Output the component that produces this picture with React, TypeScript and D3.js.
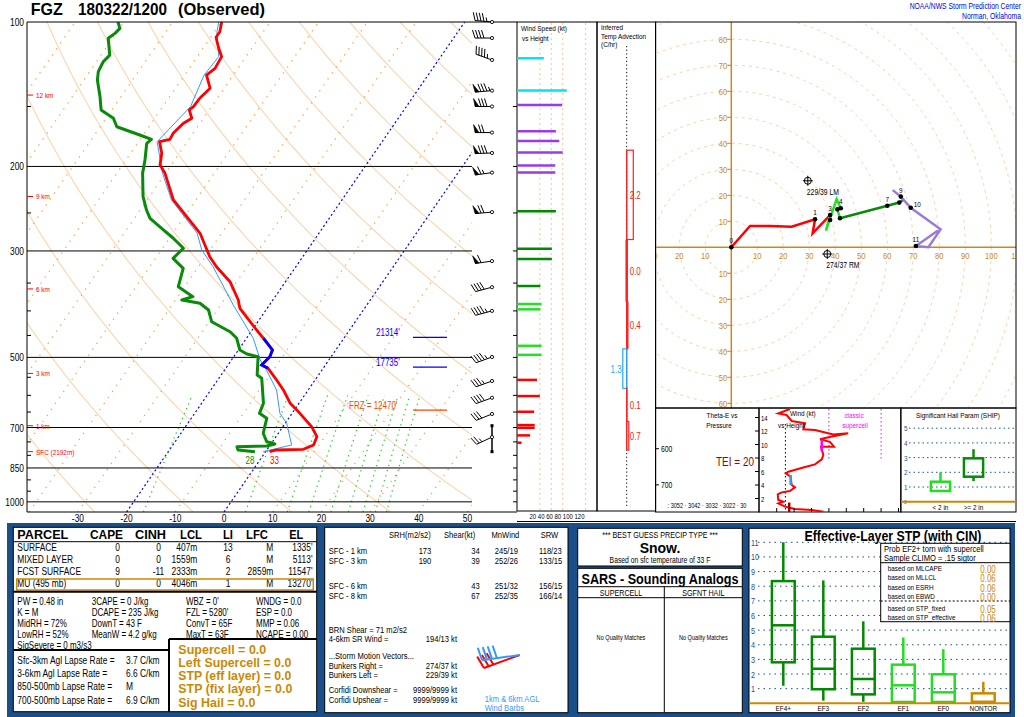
import React from "react";
import * as d3 from "d3";

const FONT = "'Liberation Sans', Arial, Helvetica, sans-serif";
const NARROW = "NARROW";

// ---------------- Sounding data (pressure hPa, temperature C) ----------------
const TEMP_P = [100, 104.8, 107.6, 112.6, 118.1, 124.9, 129, 137.4, 144.2, 150.1, 152.5, 158.7, 162.6, 170.6, 175.6, 177.6, 187.8, 198.6, 206.7, 234.9, 254.5, 275.6, 308.4, 323.6, 347.7, 379.6, 395.1, 438.4, 456.2, 482.6, 498.3, 518.6, 526.9, 557.3, 584.6, 623.2, 654, 697.2, 731.5, 761.3, 777.1, 779.7, 786.1];
const TEMP_C = [-69.9, -68.9, -68.9, -67.1, -65.0, -64.7, -65.5, -62.9, -63.6, -63.7, -64.1, -62.4, -63.4, -64.1, -63.9, -65.7, -63.6, -62.3, -60.1, -54.6, -49.5, -44.4, -39.1, -36.3, -31.4, -27.1, -25.6, -19.1, -16.5, -13.0, -12.6, -13.1, -11.3, -7.9, -5.1, -1.8, 1.6, 5.9, 8.4, 8.9, 7.4, 2.0, 0.8];
const DEWP_P = [100, 103.1, 105.6, 108.1, 117.2, 121, 126.9, 132.1, 143.1, 152.5, 158.7, 165.3, 172, 175.6, 179, 193.9, 206.7, 231.2, 246.5, 256.5, 271.3, 282.3, 296.2, 310.8, 326.1, 356.2, 373.6, 379.6, 385.7, 398.3, 421.3, 442, 456.2, 482.6, 491.9, 498.3, 544.1, 552.7, 623.2, 654, 669.8, 719.6, 749.3, 757.6, 764.8, 767.5, 779.7, 786.1];
const DEWP_C = [-91.2, -89.9, -90.2, -90.9, -88.2, -88.6, -88.2, -87.2, -84.3, -82.2, -78.5, -76.6, -70.7, -67.7, -68.1, -66.1, -64.7, -61.3, -58.7, -56.8, -52.4, -49.2, -45.7, -46.4, -42.9, -41.3, -36.9, -38.7, -34.5, -31.8, -29.5, -24.3, -22.0, -19.7, -17.7, -15.0, -12.6, -11.2, -7.3, -6.7, -4.5, -3.1, -1.2, 0.8, -0.6, -6.6, -5.9, -2.2];
const WETB_P = [100, 104.8, 118.1, 129, 150.1, 177.6, 206.7, 234.9, 275.6, 298.6, 323.6, 389, 456.2, 506.3, 531.2, 584.6, 654, 685.9, 761.3, 786.1];
const WETB_C = [-70.5, -69.5, -65.6, -66, -64.3, -66.2, -60.6, -55, -45, -41.7, -37, -27.4, -18.6, -14.1, -11.4, -6.5, -2.5, 0.3, 4.4, -0.5];

const PRESS_LABELS = [100, 200, 300, 500, 700, 850, 1000];
const TEMP_TICKS = [-30, -20, -10, 0, 10, 20, 30, 40, 50];
const BLUE_ISOTHERMS = [-20, 0];
const HEIGHT_MARK_P = [142, 231, 360, 540, 694, 786];
const HEIGHT_MARK_L = ["12 km", "9 km", "6 km", "3 km", "1 km", "SFC (2192m)"];
const MIXR_LINES = [1, 5, 9, 12, 16, 20, 24, 28, 32];
const LEVEL_P = [454, 524, 644];
const LEVEL_L = ["21314'", "17735'", "FRZ = 12470'"];

// wind barbs
const BARB_P = [100, 108, 120, 139, 150, 170, 187.5, 206, 249, 315, 357, 400, 499, 560, 607, 656, 733];
const BARB_DIR = [275, 270, 290, 265, 270, 270, 268, 262, 265, 262, 255, 255, 250, 250, 250, 248, 245];
const BARB_SPD = [45, 40, 47, 87, 79, 68, 80, 67, 68, 61, 41, 43, 43, 35, 40, 30, 23];
const INFLOW_P = [694, 786];

// wind speed vs height column
const WSPD_P = [119, 139, 149, 169, 177, 187, 199, 206, 248, 297, 312, 355, 387, 397, 473, 494, 557, 602, 649, 692, 701, 727, 753];
const WSPD_KT = [47, 87, 79, 68, 74, 80, 67, 67, 68, 61, 61, 41, 43, 41, 43, 43, 35, 40, 30, 31, 31, 23, 8];
const WSPD_GRID = [40, 60, 80, 120];

// inferred temperature advection
const ADV_PTOP = [185, 284, 383, 480, 580, 680];
const ADV_PBOT = [284, 383, 480, 580, 680, 780];
const ADV_VAL = [2.2, 0.0, 0.4, -1.3, 0.1, 0.7];

// hodograph (u, v in kt)
const HODO_0_3 = [[0, 0], [7.2, 8.2], [14.9, 8.2], [23.2, 7.9], [32.2, 10.8], [31.3, 5.4], [38, 12.4]];
const HODO_3_6 = [[38, 12.4], [36.4, 6.4], [40.5, 18.5], [42.1, 15], [40.8, 14.6], [41.8, 11.2]];
const HODO_6_9 = [[41.8, 11.2], [60, 16], [64.6, 17.2], [66.5, 18.5]];
const HODO_9_12 = [[62.1, 22], [65.2, 19.5], [69, 15.2], [80.5, 6.9], [75.8, 0], [71, 0.5], [79.5, 6.5]];
const HODO_MARK_L = ["0", "1", "", "3", "", "4", "", "7", "", "9", "10", "11"];
const HODO_MARK_U = [0, 32.2, 38, 38, 40.8, 42.1, 41.8, 60, 64.6, 65.2, 69, 71];
const HODO_MARK_V = [0, 10.8, 10.5, 12.4, 14.6, 15, 11.2, 16, 17.2, 19.5, 15.2, 0.5];
const STORM_DIR = [274, 229];
const STORM_SPD = [37, 39];
const STORM_LBL = ["RM", "LM"];

// storm-relative wind vs height panel
const SR_H = [0.04, 0.3, 0.44, 0.79, 1.28, 1.53, 1.78, 2.62, 2.91, 3.11, 3.65, 4.0, 5.23, 5.73, 5.97, 6.67, 7.06, 7.8, 8.44, 9.68, 9.68, 10.4, 10.77, 11.06, 11.65, 11.5, 12.15, 12.25, 13.14, 13.48, 14.37, 14.6, 15.26];
const SR_KT = [36.9, 30.1, 20.5, 14.8, 10.9, 13.8, 10.9, 10.6, 12.9, 17.6, 20.5, 18.6, 18.0, 15.2, 16.7, 26.3, 32.0, 35.9, 36.8, 35.5, 42.9, 40.6, 34.9, 39.7, 51.1, 42.5, 32.0, 25.3, 26.3, 18.6, 15.7, 10.9, 17.6];
const SR_LAYER_BOT = [0, 4, 9];
const SR_LAYER_TOP = [1.4, 5.5, 10.7];
const SR_LAYER_KT = [17.2, 18, 35.9];

// SHIP
const SHIP_CATS = ["< 2 in", ">= 2 in"];
const SHIP_WLO = [0.73, 1.4];
const SHIP_Q1 = [0.73, 1.7];
const SHIP_Q3 = [1.36, 2.95];
const SHIP_WHI = [2.0, 3.57];

// Effective layer STP box plots
const STP_CATS = ["EF4+", "EF3", "EF2", "EF1", "EF0", "NONTOR"];
const STP_WLO = [1.2, 0.18, 0.1, 0, 0, 0];
const STP_Q1 = [2.8, 0.96, 0.61, 0.09, 0.09, 0.09];
const STP_MED = [5.33, 2.36, 1.66, 1.23, 0.75, 0.09];
const STP_Q3 = [8.35, 4.55, 3.73, 2.64, 1.98, 0.68];
const STP_WHI = [11, 8.4, 5.6, 4.5, 3.7, 1.47];
const STP_PROB_L = ["based on MLCAPE", "based on MLLCL", "based on ESRH", "based on EBWD", "based on STP_fixed", "based on STP_effective"];
const STP_PROB_V = ["0.00", "0.06", "0.06", "0.00", "0.05", "0.06"];

// parcel table
const PARCEL_ROWS = ["SURFACE", "MIXED LAYER", "FCST SURFACE", "MU   (495 mb)"];
const PARCEL_CAPE = ["0", "0", "9", "0"];
const PARCEL_CINH = ["0", "0", "-11", "0"];
const PARCEL_LCL = ["407m", "1559m", "2333m", "4046m"];
const PARCEL_LI = ["13", "6", "2", "1"];
const PARCEL_LFC = ["M", "M", "2859m", "M"];
const PARCEL_EL = ["1335'", "5113'", "11547'", "13270'"];

const IDX_COL1 = ["PW = 0.48 in", "K = M", "MidRH = 72%", "LowRH = 52%", "SigSevere = 0 m3/s3"];
const IDX_COL2 = ["3CAPE = 0 J/kg", "DCAPE = 235 J/kg", "DownT = 43 F", "MeanW = 4.2 g/kg"];
const IDX_COL3 = ["WBZ = 0'", "FZL = 5280'", "ConvT = 65F", "MaxT = 63F"];
const IDX_COL4 = ["WNDG = 0.0", "ESP = 0.0", "MMP = 0.06", "NCAPE = 0.00"];
const LAPSE_L = ["Sfc-3km Agl Lapse Rate =", "3-6km Agl Lapse Rate =", "850-500mb Lapse Rate =", "700-500mb Lapse Rate ="];
const LAPSE_V = ["3.7 C/km", "6.6 C/km", "M", "6.9 C/km"];
const SEVERE_L = ["Supercell = 0.0", "Left Supercell = 0.0", "STP (eff layer) = 0.0", "STP (fix layer) = 0.0", "Sig Hail = 0.0"];

const KIN_ROWS = ["SFC - 1 km", "SFC - 3 km", "SFC - 6 km", "SFC - 8 km"];
const KIN_SRH = ["173", "190", "", ""];
const KIN_SHEAR = ["34", "39", "43", "67"];
const KIN_MNW = ["245/19", "252/26", "251/32", "252/35"];
const KIN_SRW = ["118/23", "133/15", "156/15", "166/14"];
const BARB2_DIR = [250, 262];
const BARB2_SPD = [32, 38];

function barb(x: number, y: number, dir: number, spd: number, L = 17, F = 8, G = 3) {
  const r = (dir * Math.PI) / 180;
  const ux = Math.sin(r), uy = -Math.cos(r);
  const px = -uy, py = ux;
  const at = (d: number) => [x + ux * d, y + uy * d];
  let s = Math.round(spd / 5) * 5;
  const n50 = Math.floor(s / 50); s -= n50 * 50;
  const n10 = Math.floor(s / 10); s -= n10 * 10;
  const n5 = s >= 5 ? 1 : 0;
  const tip = at(L);
  let line = `M${x},${y}L${tip[0]},${tip[1]}`;
  let flags = "";
  let d = L;
  for (let i = 0; i < n50; i++) {
    const a = at(d), b = at(d - 4);
    flags += `M${a[0]},${a[1]}L${a[0] + px * F + ux * 1.5},${a[1] + py * F + uy * 1.5}L${b[0]},${b[1]}Z`;
    d -= 5;
  }
  if (n50 > 0) d -= 1;
  for (let i = 0; i < n10; i++) {
    const a = at(d);
    line += `M${a[0]},${a[1]}l${px * F + ux * 2.5},${py * F + uy * 2.5}`;
    d -= G;
  }
  if (n5) {
    if (n50 === 0 && n10 === 0) d -= G;
    const a = at(d);
    line += `M${a[0]},${a[1]}l${(px * F) / 2 + ux * 1.25},${(py * F) / 2 + uy * 1.25}`;
  }
  return { line, flags };
}

function Txt(props: any) {
  const { x, y, s = 10, fill = "#000", anchor = "start", weight = "normal", len, family = FONT, children } = props;
  const narrow = family === NARROW;
  const k = props.k !== undefined ? props.k : narrow ? 0.8 : 1;
  const extra: any = {};
  if (len) { extra.textLength = len; extra.lengthAdjust = "spacingAndGlyphs"; }
  return (
    <text transform={`translate(${x},${y}) scale(${k},1)`} x={0} y={0} fontSize={s} fill={fill} textAnchor={anchor}
      fontWeight={weight} fontFamily={FONT} {...extra}>
      {children}
    </text>
  );
}

export default function App() {
  // ---------- Skew-T scales ----------
  const yP = d3.scaleLog().domain([100, 1050]).range([22, 512]);
  const xT = d3.scaleLinear().domain([0, 10]).range([224, 272.7]);
  const SKEW = 0.69;
  const sx = (t: number, p: number) => xT(t) + SKEW * (yP(1050) - yP(p));
  const profile = (P: number[], T: number[]) =>
    d3.line<number>().x((i) => sx(T[i], P[i])).y((i) => yP(P[i]))(P.map((_, i) => i)) || "";
  const pSamples = d3.range(1050, 99, -10).concat([100]);
  const dryAdiabats = d3.range(-30, 211, 20).map((th) =>
    d3.line<number>().x((p) => sx((th + 273.15) * Math.pow(p / 1000, 0.2857) - 273.15, p)).y((p) => yP(p))(pSamples) || ""
  );
  const mixT = (w: number, p: number) => {
    const e = (w * p) / (622 + w);
    const l = Math.log(e / 6.112);
    return (243.5 * l) / (17.67 - l);
  };
  const mixLines = MIXR_LINES.map((w) =>
    d3.line<number>().x((p) => sx(mixT(w, p), p)).y((p) => yP(p))(d3.range(1050, 599, -25).concat([600])) || ""
  );
  const isoLine = (t: number) => ({ x1: sx(t, 1050), y1: yP(1050), x2: sx(t, 100), y2: yP(100) });
  const isotherms = d3.range(-110, 51, 10).filter((t) => BLUE_ISOTHERMS.indexOf(t) < 0);
  const dgzIdx = TEMP_P.map((p, i) => i).filter((i) => TEMP_P[i] >= 452 && TEMP_P[i] <= 527);
  const dgzPath = profile(dgzIdx.map((i) => TEMP_P[i]), dgzIdx.map((i) => TEMP_C[i]));
  const sfcI = TEMP_P.length - 1;
  const sfcTd = DEWP_C[DEWP_C.length - 1];
  const cToF = (c: number) => Math.round((c * 9) / 5 + 32);
  const pTicks = d3.range(150, 1001, 50).filter((p) => PRESS_LABELS.indexOf(p) < 0);
  const allPTicks = d3.range(150, 1001, 50);

  const bandColor = (p: number) =>
    p < HEIGHT_MARK_P[0] ? "#00e5ee" : p < HEIGHT_MARK_P[1] ? "#9a3be8" : p < HEIGHT_MARK_P[2] ? "#008a00" : p < HEIGHT_MARK_P[3] ? "#22e022" : "#ff0000";

  const wsX = d3.scaleLinear().domain([0, 140]).range([517, 597]);
  const advX = d3.scaleLinear().domain([0, 1]).range([626.7, 629.7]);

  const hX = d3.scaleLinear().domain([-30, 110]).range([731.3 - 78, 731.3 + 286]);
  const hY = d3.scaleLinear().domain([-60, 90]).range([403.3, 13.3]);
  const hLine = (pts: number[][]) => d3.line<number[]>().x((d) => hX(d[0])).y((d) => hY(d[1]))(pts) || "";
  const rings = d3.range(10, 131, 10);
  const hoXLabels = [-30, -20, -10, 10, 20, 30, 40, 50, 60, 70, 80, 90, 100, 110];
  const hoYLabels = [80, 70, 60, 50, 40, 30, 20, 10, -10, -20, -30, -40, -50, -60];
  const storms = STORM_DIR.map((d, i) => {
    const r = (d * Math.PI) / 180;
    return { u: -STORM_SPD[i] * Math.sin(r), v: -STORM_SPD[i] * Math.cos(r), lbl: `${d}/${STORM_SPD[i]} ${STORM_LBL[i]}` };
  });

  const thY = d3.scaleLog().domain([500, 786]).range([406, 512]);
  const srX = d3.scaleLinear().domain([0, 10]).range([759.3, 776.7]);
  const srY = d3.scaleLinear().domain([0, 14]).range([512, 417.5]);
  const srPath = d3.line<number>().x((i) => srX(SR_KT[i])).y((i) => srY(SR_H[i]))(SR_H.map((_, i) => i)) || "";
  const shY = d3.scaleLinear().domain([0, 5]).range([501.7, 428.2]);
  const shX = d3.scaleBand().domain(SHIP_CATS).range([917, 997]).padding(0.42);

  const stpY = d3.scaleLinear().domain([0, 11]).range([703.3, 542.3]);
  const stpX = d3.scaleBand().domain(STP_CATS).range([763.3, 1003.3]).paddingInner(0.43).paddingOuter(0.215);
  const stpColor = (i: number) => (i < 3 ? "#008a00" : i < 5 ? "#22dd22" : "#cc8800");

  const BLUE = "#1b4f8a";

  return (
    <svg width={1024} height={717} style={{ position: "absolute", left: 0, top: 0, background: "#fff" }} fontFamily={FONT}>
      <defs>
        <clipPath id="skewclip"><rect x={27} y={22} width={445} height={490} /></clipPath>
        <clipPath id="hodoclip"><rect x={655} y={22} width={361} height={386} /></clipPath>
        <clipPath id="srclip"><rect x={759} y={408} width={142} height={104} /></clipPath>
      </defs>
      <rect x={0} y={0} width={1024} height={717} fill="#fff" />

      {/* ===== Title ===== */}
      <Txt x={30.7} y={15} s={17} weight="bold" len={32}>FGZ</Txt>
      <Txt x={78} y={15} s={17} weight="bold" len={89}>180322/1200</Txt>
      <Txt x={178} y={15} s={17} weight="bold" len={87}>(Observed)</Txt>
      <Txt x={1021} y={9} s={8.5} fill="#0000dd" anchor="end" family={NARROW}>NOAA/NWS Storm Prediction Center</Txt>
      <Txt x={1021} y={18.5} s={8.5} fill="#0000dd" anchor="end" family={NARROW}>Norman, Oklahoma</Txt>

      {/* ===== Skew-T ===== */}
      <g clipPath="url(#skewclip)">
        {dryAdiabats.map((d, i) => <path key={"da" + i} d={d} fill="none" stroke="#f9d8b6" strokeWidth={1.2} />)}
        {isotherms.map((t) => (
          <line key={"it" + t} {...isoLine(t)} stroke="#ff9a3c" strokeWidth={1.2} strokeDasharray="1.3 6" />
        ))}
        {BLUE_ISOTHERMS.map((t) => (
          <line key={"bl" + t} {...isoLine(t)} stroke="#0000ff" strokeWidth={1.2} strokeDasharray="2 2.5" />
        ))}
        {mixLines.map((d, i) => <path key={"mx" + i} d={d} fill="none" stroke="#22cc22" strokeWidth={1.2} strokeDasharray="1.3 4" />)}
        {PRESS_LABELS.filter((p) => p > 100).map((p) => (
          <line key={"pl" + p} x1={27} x2={472} y1={yP(p)} y2={yP(p)} stroke="#000" strokeWidth={1} />
        ))}
        <path d={profile(WETB_P, WETB_C)} fill="none" stroke="#3399ff" strokeWidth={1} />
        <path d={profile(DEWP_P, DEWP_C)} fill="none" stroke="#0a8a0a" strokeWidth={3} strokeLinejoin="round" />
        <path d={profile(TEMP_P, TEMP_C)} fill="none" stroke="#ff0000" strokeWidth={2.8} strokeLinejoin="round" />
        <path d={dgzPath} fill="none" stroke="#0000ff" strokeWidth={2.8} />
      </g>
      <line x1={27} y1={22} x2={517} y2={22} stroke="#000" />
      <line x1={27} y1={512} x2={517} y2={512} stroke="#000" />
      <line x1={27} y1={22} x2={27} y2={512} stroke="#000" />
      {PRESS_LABELS.map((p) => (
        <Txt key={"plab" + p} x={24} y={yP(p) + 4} s={10.5} anchor="end" family={NARROW}>{p}</Txt>
      ))}
      {pTicks.map((p) => <line key={"pt" + p} x1={27} x2={31} y1={yP(p)} y2={yP(p)} stroke="#000" />)}
      {TEMP_TICKS.map((t) => (
        <Txt key={"tt" + t} x={xT(t)} y={522} s={10.5} anchor="middle" family={NARROW}>{t}</Txt>
      ))}
      {HEIGHT_MARK_P.map((p, i) => (
        <g key={"hm" + i}>
          <line x1={27} x2={33} y1={yP(p)} y2={yP(p)} stroke="#ff0000" />
          <Txt x={36} y={yP(p) + 3} s={8} fill="#ff0000" family={NARROW}>{HEIGHT_MARK_L[i]}</Txt>
        </g>
      ))}
      {LEVEL_P.map((p, i) => (
        <g key={"lv" + i}>
          <line x1={413} x2={447} y1={yP(p)} y2={yP(p)} stroke={i < 2 ? "#0000ff" : "#ff4400"} strokeWidth={1.2} />
          <Txt x={i < 2 ? 376 : 349} y={yP(p) - 1} s={10} fill={i < 2 ? "#0000ff" : "#ff4400"} family={NARROW}>{LEVEL_L[i]}</Txt>
        </g>
      ))}
      <Txt x={sx(sfcTd, TEMP_P[sfcI]) - 5} y={yP(TEMP_P[sfcI]) + 12} s={10} fill="#0a8a0a" anchor="middle" family={NARROW}>{cToF(sfcTd)}</Txt>
      <Txt x={sx(TEMP_C[sfcI], TEMP_P[sfcI]) + 5} y={yP(TEMP_P[sfcI]) + 12} s={10} fill="#ff0000" anchor="middle" family={NARROW}>{cToF(TEMP_C[sfcI])}</Txt>

      {/* wind barbs */}
      <line x1={492} x2={492} y1={yP(INFLOW_P[0])} y2={yP(INFLOW_P[1])} stroke="#000" strokeWidth={1.5} />
      <rect x={490.5} y={yP(INFLOW_P[0]) - 1.5} width={3} height={3} fill="#000" />
      <rect x={490.5} y={yP(INFLOW_P[1]) - 1.5} width={3} height={3} fill="#000" />
      {BARB_P.map((p, i) => {
        const b = barb(492, yP(p), BARB_DIR[i], BARB_SPD[i]);
        return (
          <g key={"bb" + i}>
            <path d={b.line} stroke="#000" strokeWidth={1} fill="none" />
            <path d={b.flags} fill="#000" stroke="#000" strokeWidth={0.6} />
            <circle cx={492} cy={yP(p)} r={1.6} fill="#fff" stroke="#000" strokeWidth={0.9} />
          </g>
        );
      })}

      {/* ===== Wind speed column ===== */}
      <rect x={517} y={22} width={80} height={489} fill="none" stroke="#000" />
      {WSPD_GRID.map((k) => (
        <line key={"wg" + k} x1={wsX(k)} x2={wsX(k)} y1={23} y2={510} stroke="#f3c890" strokeDasharray="2 3" />
      ))}
      {allPTicks.map((p) => <line key={"wt" + p} x1={513} x2={517} y1={yP(p)} y2={yP(p)} stroke="#000" />)}
      {WSPD_P.map((p, i) => (
        <line key={"ws" + i} x1={517} x2={wsX(WSPD_KT[i])} y1={yP(p)} y2={yP(p)} stroke={bandColor(p)} strokeWidth={2.5} />
      ))}
      <Txt x={521} y={31} s={8} family={NARROW}>Wind Speed (kt)</Txt>
      <Txt x={522} y={41} s={8} family={NARROW}>vs Height</Txt>
      <Txt x={557} y={518.5} s={7.5} anchor="middle" family={NARROW}>20 40 60 80 100 120</Txt>

      {/* ===== Inferred temp advection ===== */}
      <rect x={597} y={22} width={58.7} height={489} fill="none" stroke="#000" />
      <line x1={advX(0)} x2={advX(0)} y1={46} y2={508} stroke="#000" strokeDasharray="1.2 2.5" />
      <Txt x={601} y={30} s={8} family={NARROW}>Inferred</Txt>
      <Txt x={601} y={38.5} s={8} family={NARROW}>Temp Advection</Txt>
      <Txt x={601} y={47} s={8} family={NARROW}>(C/hr)</Txt>
      <line x1={advX(0)} x2={advX(0)} y1={yP(ADV_PTOP[0])} y2={yP(ADV_PBOT[ADV_PBOT.length - 1])} stroke="#ff2020" strokeWidth={1} />
      {ADV_VAL.map((v, i) => {
        const y1 = yP(ADV_PTOP[i]), y2 = yP(ADV_PBOT[i]);
        const col = v < 0 ? "#22aaff" : "#ff2020";
        const xa = Math.min(advX(0), advX(v)), w = Math.abs(advX(v) - advX(0));
        return (
          <g key={"adv" + i}>
            {v === 0 ? (
              <line x1={advX(0)} x2={advX(0)} y1={y1} y2={y2} stroke={col} strokeWidth={2.5} />
            ) : (
              <rect x={xa} y={y1} width={w} height={y2 - y1} fill="none" stroke={col} strokeWidth={1.2} />
            )}
            <Txt x={v < 0 ? advX(0) - 5 : advX(0) + 3} y={(y1 + y2) / 2 + 4} s={10} fill={col} anchor={v < 0 ? "end" : "start"} family={NARROW}>
              {Math.abs(v).toFixed(1)}
            </Txt>
          </g>
        );
      })}

      {/* ===== Hodograph ===== */}
      <g clipPath="url(#hodoclip)">
        {rings.map((r) => (
          <circle key={"rg" + r} cx={hX(0)} cy={hY(0)} r={hX(r) - hX(0)} fill="none" stroke="#f6d2a8" strokeDasharray="3 4" />
        ))}
        <line x1={655} x2={1016} y1={hY(0)} y2={hY(0)} stroke="#c98a1c" strokeWidth={1.5} />
        <line x1={hX(0)} x2={hX(0)} y1={22} y2={408} stroke="#c98a1c" strokeWidth={1.5} />
        {hoXLabels.map((u) => (
          <Txt key={"hx" + u} x={hX(u)} y={hY(0) + 12} s={9.5} fill="#c98a1c" anchor="middle" family={NARROW}>{Math.abs(u)}</Txt>
        ))}
        {hoYLabels.map((v) => (
          <g key={"hy" + v}>
            <line x1={hX(0) - 4} x2={hX(0)} y1={hY(v)} y2={hY(v)} stroke="#c98a1c" />
            <Txt x={hX(0) - 4} y={hY(v) + 3.5} s={9.5} fill="#c98a1c" anchor="end" family={NARROW}>{Math.abs(v)}</Txt>
          </g>
        ))}
        <path d={hLine(HODO_0_3)} fill="none" stroke="#ff0000" strokeWidth={2.5} />
        <path d={hLine(HODO_3_6)} fill="none" stroke="#22e022" strokeWidth={2.5} />
        <path d={hLine(HODO_6_9)} fill="none" stroke="#0a8a0a" strokeWidth={2.5} />
        <path d={hLine(HODO_9_12)} fill="none" stroke="#9a7ad8" strokeWidth={2.5} />
        {HODO_MARK_U.map((u, i) => (
          <g key={"hm" + i}>
            <circle cx={hX(u)} cy={hY(HODO_MARK_V[i])} r={2.3} fill="#000" />
            <Txt x={HODO_MARK_L[i] === "10" ? hX(u) + 3 : hX(u)} y={HODO_MARK_L[i] === "10" ? hY(HODO_MARK_V[i]) - 1 : hY(HODO_MARK_V[i]) - 4}
              s={8} anchor={HODO_MARK_L[i] === "10" ? "start" : "middle"} family={NARROW}>{HODO_MARK_L[i]}</Txt>
          </g>
        ))}
        {storms.map((s, i) => (
          <g key={"st" + i}>
            <circle cx={hX(s.u)} cy={hY(s.v)} r={3.5} fill="none" stroke="#000" />
            <line x1={hX(s.u) - 5} x2={hX(s.u) + 5} y1={hY(s.v)} y2={hY(s.v)} stroke="#000" />
            <line x1={hX(s.u)} x2={hX(s.u)} y1={hY(s.v) - 5} y2={hY(s.v) + 5} stroke="#000" />
            <Txt x={hX(s.u) - 1} y={hY(s.v) + 14} s={8.5} family={NARROW}>{s.lbl}</Txt>
          </g>
        ))}
      </g>
      <rect x={655.5} y={22} width={360.5} height={386} fill="none" stroke="#000" />

      {/* ===== Theta-E panel ===== */}
      <rect x={655.5} y={408} width={103.5} height={104} fill="none" stroke="#000" />
      <Txt x={722} y={418} s={8} anchor="middle" family={NARROW}>Theta-E vs</Txt>
      <Txt x={719} y={428} s={8} anchor="middle" family={NARROW}>Pressure</Txt>
      {[600, 700].map((p) => (
        <g key={"th" + p}>
          <line x1={655.5} x2={659} y1={thY(p)} y2={thY(p)} stroke="#000" />
          <Txt x={661} y={thY(p) + 3} s={8.5} family={NARROW}>{p}</Txt>
        </g>
      ))}
      <Txt x={735} y={466} s={12.5} fill="#990000" anchor="middle" family={NARROW}>TEI = 20</Txt>
      <Txt x={707} y={508} s={7} anchor="middle" family={NARROW}>: 3052 · 3042 · 3032 · 3022 · 30</Txt>

      {/* ===== SR wind panel ===== */}
      <rect x={759} y={408} width={142} height={104} fill="none" stroke="#000" />
      {[40, 70].map((k) => (
        <line key={"mg" + k} x1={srX(k)} x2={srX(k)} y1={409} y2={459} stroke="#ff00ff" strokeDasharray="1.5 2.5" />
      ))}
      <line x1={srX(15)} x2={srX(15)} y1={424} y2={511} stroke="#000" strokeDasharray="1.5 2.5" />
      <g clipPath="url(#srclip)">
        <path d={srPath} fill="none" stroke="#ff0000" strokeWidth={2} />
        {SR_LAYER_KT.map((k, i) => (
          <line key={"srl" + i} x1={srX(k)} x2={srX(k)} y1={srY(SR_LAYER_BOT[i])} y2={srY(SR_LAYER_TOP[i])}
            stroke={i === 0 ? "#aa0000" : i === 1 ? "#3399ff" : "#ff00ff"} strokeWidth={2.5} />
        ))}
      </g>
      <Txt x={790} y={416} s={8} family={NARROW}>Wind (kt)</Txt>
      <Txt x={778} y={428} s={8} family={NARROW}>vs Height</Txt>
      <Txt x={854} y={418} s={8} fill="#ff00ff" anchor="middle" family={NARROW}>classic</Txt>
      <Txt x={855} y={428} s={8} fill="#ff00ff" anchor="middle" family={NARROW}>supercell</Txt>
      {d3.range(2, 15, 2).map((h) => (
        <g key={"sy" + h}>
          <line x1={755} x2={759} y1={srY(h)} y2={srY(h)} stroke="#000" />
          <Txt x={761} y={srY(h) + 3} s={7.5} family={NARROW}>{h}</Txt>
        </g>
      ))}
      {d3.range(10, 90, 10).map((k) => (
        <line key={"sxk" + k} x1={srX(k)} x2={srX(k)} y1={508} y2={512} stroke="#000" />
      ))}

      {/* ===== SHIP panel ===== */}
      <rect x={900.7} y={408} width={115.3} height={104} fill="none" stroke="#000" />
      <Txt x={958} y={418} s={8} anchor="middle" family={NARROW}>Significant Hail Param (SHIP)</Txt>
      {d3.range(1, 6).map((v) => (
        <g key={"sh" + v}>
          <line x1={909} x2={1015} y1={shY(v)} y2={shY(v)} stroke="#1b5a9a" strokeDasharray="1.5 3" />
          <Txt x={904} y={shY(v) + 3} s={8} fill="#1b5a9a" family={NARROW}>{v}</Txt>
        </g>
      ))}
      <Txt x={904} y={shY(0) + 2} s={6} fill="#1b5a9a" family={NARROW}>0</Txt>
      <line x1={901} x2={1016} y1={shY(0)} y2={shY(0)} stroke="#cc8800" strokeWidth={2} />
      {SHIP_CATS.map((c, i) => {
        const x0 = shX(c) || 0, bw = shX.bandwidth(), cx = x0 + bw / 2;
        const col = i === 0 ? "#22dd22" : "#0a8a0a";
        return (
          <g key={"sb" + i}>
            <line x1={cx} x2={cx} y1={shY(SHIP_WHI[i])} y2={shY(SHIP_Q3[i])} stroke={col} strokeWidth={2.5} />
            <line x1={cx} x2={cx} y1={shY(SHIP_Q1[i])} y2={shY(SHIP_WLO[i])} stroke={col} strokeWidth={2.5} />
            <rect x={x0} y={shY(SHIP_Q3[i])} width={bw} height={shY(SHIP_Q1[i]) - shY(SHIP_Q3[i])} fill="none" stroke={col} strokeWidth={2.5} />
            <Txt x={cx} y={510} s={8} anchor="middle" family={NARROW}>{c}</Txt>
          </g>
        );
      })}

      {/* ===== Bottom section ===== */}
      <line x1={517} x2={1016} y1={521.5} y2={521.5} stroke="#000" />
      <rect x={7} y={523} width={1008} height={194} fill={BLUE} />

      {/* parcel / indices block */}
      <rect x={13.3} y={527.3} width={303.4} height={184.4} fill="#fff" stroke="#000" />
      <Txt x={17.3} y={539} s={12.5} weight="bold" len={51}>PARCEL</Txt>
      <Txt x={90} y={539} s={12.5} weight="bold" len={33}>CAPE</Txt>
      <Txt x={135} y={539} s={12.5} weight="bold" len={31}>CINH</Txt>
      <Txt x={180} y={539} s={12.5} weight="bold" len={22}>LCL</Txt>
      <Txt x={223} y={539} s={12.5} weight="bold" len={10}>LI</Txt>
      <Txt x={246} y={539} s={12.5} weight="bold" len={22}>LFC</Txt>
      <Txt x={289.3} y={539} s={12.5} weight="bold" len={14}>EL</Txt>
      <line x1={13.3} x2={316.7} y1={541.7} y2={541.7} stroke="#000" />
      {PARCEL_ROWS.map((r, i) => {
        const y = 551 + i * 11.9;
        return (
          <g key={"pr" + i}>
            <Txt x={17.3} y={y} s={10.5} family={NARROW}>{r}</Txt>
            <Txt x={117.7} y={y} s={10.5} anchor="middle" family={NARROW}>{PARCEL_CAPE[i]}</Txt>
            <Txt x={158.5} y={y} s={10.5} anchor="middle" family={NARROW}>{PARCEL_CINH[i]}</Txt>
            <Txt x={197.3} y={y} s={10.5} anchor="end" family={NARROW}>{PARCEL_LCL[i]}</Txt>
            <Txt x={228} y={y} s={10.5} anchor="middle" family={NARROW}>{PARCEL_LI[i]}</Txt>
            <Txt x={273.3} y={y} s={10.5} anchor="end" family={NARROW}>{PARCEL_LFC[i]}</Txt>
            <Txt x={312.5} y={y} s={10.5} anchor="end" family={NARROW}>{PARCEL_EL[i]}</Txt>
          </g>
        );
      })}
      <rect x={16.7} y={579} width={296.6} height={11} fill="none" stroke="#cc8800" strokeWidth={1.5} />
      <line x1={13.3} x2={316.7} y1={591.7} y2={591.7} stroke="#000" strokeWidth={2} />
      {IDX_COL1.map((t, i) => <Txt key={"c1" + i} x={17.3} y={604.5 + i * 11} s={10} family={NARROW}>{t}</Txt>)}
      {IDX_COL2.map((t, i) => <Txt key={"c2" + i} x={91.7} y={604.5 + i * 11} s={10} family={NARROW}>{t}</Txt>)}
      {IDX_COL3.map((t, i) => <Txt key={"c3" + i} x={186} y={604.5 + i * 11} s={10} family={NARROW}>{t}</Txt>)}
      {IDX_COL4.map((t, i) => <Txt key={"c4" + i} x={256} y={604.5 + i * 11} s={10} family={NARROW}>{t}</Txt>)}
      <line x1={13.3} x2={169} y1={650} y2={650} stroke="#000" strokeWidth={2} />
      <line x1={169} x2={316.7} y1={639} y2={639} stroke="#000" strokeWidth={2} />
      <line x1={169} x2={169} y1={639} y2={711.7} stroke="#000" strokeWidth={2} />
      {LAPSE_L.map((t, i) => (
        <g key={"lr" + i}>
          <Txt x={17.3} y={664.2 + i * 13.1} s={10.5} family={NARROW}>{t}</Txt>
          <Txt x={126} y={664.2 + i * 13.1} s={10.5} family={NARROW}>{LAPSE_V[i]}</Txt>
        </g>
      ))}
      {SEVERE_L.map((t, i) => (
        <Txt key={"sv" + i} x={178.3} y={653.5 + i * 13.3} s={13} weight="bold" fill="#cc8800" len={[88, 113, 113, 114, 77][i]}>{t}</Txt>
      ))}

      {/* kinematics block */}
      <rect x={324.7} y={527.3} width={243.3} height={185.4} fill="#fff" stroke="#000" />
      <Txt x={389} y={537.5} s={9.5} family={NARROW}>SRH(m2/s2)</Txt>
      <Txt x={444} y={537.5} s={9.5} family={NARROW}>Shear(kt)</Txt>
      <Txt x={491.5} y={537.5} s={9.5} family={NARROW}>MnWind</Txt>
      <Txt x={540.7} y={537.5} s={9.5} family={NARROW}>SRW</Txt>
      {KIN_ROWS.map((r, i) => {
        const y = [554, 563.5, 589, 598.5][i];
        return (
          <g key={"kr" + i}>
            <Txt x={328.7} y={y} s={9.5} family={NARROW}>{r}</Txt>
            <Txt x={431.3} y={y} s={9.5} anchor="end" family={NARROW}>{KIN_SRH[i]}</Txt>
            <Txt x={479.7} y={y} s={9.5} anchor="end" family={NARROW}>{KIN_SHEAR[i]}</Txt>
            <Txt x={494.7} y={y} s={9.5} family={NARROW}>{KIN_MNW[i]}</Txt>
            <Txt x={539} y={y} s={9.5} family={NARROW}>{KIN_SRW[i]}</Txt>
          </g>
        );
      })}
      <Txt x={328.7} y={633} s={9.5} family={NARROW}>BRN Shear = 71 m2/s2</Txt>
      <Txt x={328.7} y={642} s={9.5} family={NARROW}>4-6km SR Wind =</Txt>
      <Txt x={457} y={642} s={9.5} anchor="end" family={NARROW}>194/13 kt</Txt>
      <Txt x={328.7} y={658.5} s={9.5} family={NARROW}>...Storm Motion Vectors...</Txt>
      <Txt x={328.7} y={668.5} s={9.5} family={NARROW}>Bunkers Right =</Txt>
      <Txt x={457} y={668.5} s={9.5} anchor="end" family={NARROW}>{`${STORM_DIR[0]}/${STORM_SPD[0]} kt`}</Txt>
      <Txt x={328.7} y={678} s={9.5} family={NARROW}>Bunkers Left =</Txt>
      <Txt x={457} y={678} s={9.5} anchor="end" family={NARROW}>{`${STORM_DIR[1]}/${STORM_SPD[1]} kt`}</Txt>
      <Txt x={328.7} y={693} s={9.5} family={NARROW}>Corfidi Downshear =</Txt>
      <Txt x={457} y={693} s={9.5} anchor="end" family={NARROW}>9999/9999 kt</Txt>
      <Txt x={328.7} y={702.5} s={9.5} family={NARROW}>Corfidi Upshear =</Txt>
      <Txt x={457} y={702.5} s={9.5} anchor="end" family={NARROW}>9999/9999 kt</Txt>
      {BARB2_DIR.map((d, i) => {
        const b = barb(519.7, 655, d, BARB2_SPD[i], 38, 13, 5);
        const col = i === 0 ? "#ff0000" : "#3399ff";
        return (
          <g key={"b2" + i}>
            <path d={b.line} stroke={col} strokeWidth={2} fill="none" />
            <path d={b.flags} fill={col} stroke={col} />
          </g>
        );
      })}
      <Txt x={484.7} y={702} s={9.5} fill="#3399ff" family={NARROW}>1km &amp; 6km AGL</Txt>
      <Txt x={484.7} y={711} s={9.5} fill="#3399ff" family={NARROW}>Wind Barbs</Txt>

      {/* best guess / SARS */}
      <rect x={577.7} y={528.3} width={164.6} height={37.7} fill="#fff" stroke="#000" />
      <Txt x={660} y={538} s={9} anchor="middle" family={NARROW}>*** BEST GUESS PRECIP TYPE ***</Txt>
      <Txt x={660} y={553} s={14} weight="bold" anchor="middle">Snow.</Txt>
      <Txt x={660} y={562.5} s={8.5} anchor="middle" family={NARROW}>Based on sfc temperature of 33 F</Txt>
      <rect x={577.7} y={568.3} width={164.6} height={144.4} fill="#fff" stroke="#000" />
      <Txt x={660} y={583.5} s={14.5} weight="bold" anchor="middle" len={157}>SARS - Sounding Analogs</Txt>
      <line x1={577.7} x2={742.3} y1={586.7} y2={586.7} stroke="#000" />
      <line x1={577.7} x2={742.3} y1={597.7} y2={597.7} stroke="#000" />
      <line x1={664.3} x2={664.3} y1={586.7} y2={712.7} stroke="#000" />
      <Txt x={621} y={595.5} s={9} anchor="middle" family={NARROW}>SUPERCELL</Txt>
      <Txt x={703.3} y={595.5} s={9} anchor="middle" family={NARROW}>SGFNT HAIL</Txt>
      <Txt x={621} y={639.5} s={7} anchor="middle" family={NARROW}>No Quality Matches</Txt>
      <Txt x={703.3} y={639.5} s={7} anchor="middle" family={NARROW}>No Quality Matches</Txt>

      {/* STP block */}
      <rect x={749} y={528.3} width={261} height={184.4} fill="#fff" stroke="#000" />
      <Txt x={893} y={540.5} s={15} weight="bold" anchor="middle" len={177}>Effective-Layer STP (with CIN)</Txt>
      {d3.range(1, 12).map((v) => (
        <g key={"sp" + v}>
          <line x1={758} x2={1008} y1={stpY(v)} y2={stpY(v)} stroke={BLUE} strokeDasharray="1.5 4" />
          <Txt x={751} y={stpY(v) + 3.5} s={9} fill={BLUE} family={NARROW}>{v}</Txt>
        </g>
      ))}
      {STP_CATS.map((c, i) => {
        const x0 = stpX(c) || 0, bw = stpX.bandwidth(), cx = x0 + bw / 2, col = stpColor(i);
        return (
          <g key={"stp" + i}>
            <line x1={cx} x2={cx} y1={stpY(STP_WHI[i])} y2={stpY(STP_Q3[i])} stroke={col} strokeWidth={2.5} />
            <line x1={cx} x2={cx} y1={stpY(STP_Q1[i])} y2={stpY(STP_WLO[i])} stroke={col} strokeWidth={2.5} />
            <rect x={x0} y={stpY(STP_Q3[i])} width={bw} height={stpY(STP_Q1[i]) - stpY(STP_Q3[i])} fill="none" stroke={col} strokeWidth={2.5} />
            <line x1={x0} x2={x0 + bw} y1={stpY(STP_MED[i])} y2={stpY(STP_MED[i])} stroke={col} strokeWidth={2.5} />
            <Txt x={cx} y={710.5} s={8} anchor="middle" family={NARROW}>{c}</Txt>
          </g>
        );
      })}
      <line x1={749} x2={1010} y1={stpY(0)} y2={stpY(0)} stroke="#cc8800" strokeWidth={2} />
      <rect x={880.7} y={543.3} width={129.3} height={78.4} fill="#fff" stroke="#000" />
      <Txt x={884} y={552} s={9.5} family={NARROW}>Prob EF2+ torn with supercell</Txt>
      <Txt x={884} y={561} s={9.5} family={NARROW}>Sample CLIMO = .15 sigtor</Txt>
      <line x1={880.7} x2={1010} y1={562.7} y2={562.7} stroke="#000" />
      <line x1={880.7} x2={1010} y1={601} y2={601} stroke="#000" strokeDasharray="2 2" />
      {STP_PROB_L.map((t, i) => {
        const y = [571, 580, 590, 599, 611, 620][i];
        return (
          <g key={"pb" + i}>
            <Txt x={887.7} y={y} s={8} family={NARROW}>{t}</Txt>
            <Txt x={988} y={y + 2} s={10} fill="#cc8800" anchor="middle" family={NARROW}>{STP_PROB_V[i]}</Txt>
          </g>
        );
      })}
    </svg>
  );
}
